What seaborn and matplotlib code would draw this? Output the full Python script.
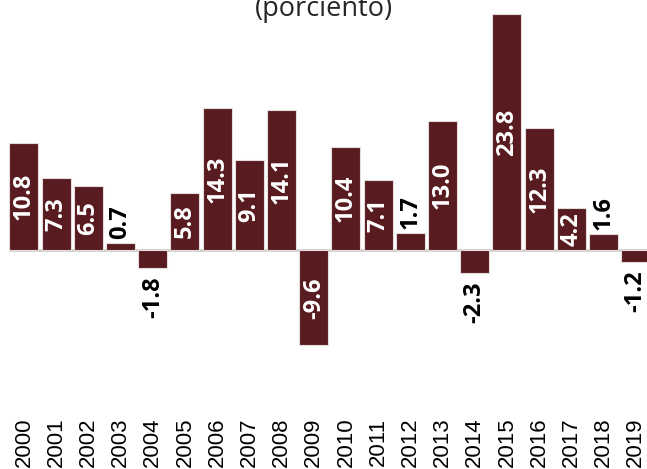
import matplotlib

matplotlib.use("Agg")

import matplotlib.pyplot as plt
import pandas as pd
import seaborn as sns

# Annual growth (percent)
years = [str(y) for y in range(2000, 2020)]
growth = [10.8, 7.3, 6.5, 0.7, -1.8, 5.8, 14.3, 9.1, 14.1, -9.6,
          10.4, 7.1, 1.7, 13.0, -2.3, 23.8, 12.3, 4.2, 1.6, -1.2]
title = "(porciento)"

BAR = "#581b1f"

df = pd.DataFrame({"year": years, "growth": growth})

sns.set_theme(style="white")
plt.rcParams["font.family"] = ["Open Sans", "DejaVu Sans"]

fig = plt.figure(figsize=(6.47, 4.69), dpi=100)
ax = fig.add_axes([0, 0.1365, 1, 0.8635])

sns.barplot(data=df, x="year", y="growth", color=BAR, saturation=1,
            width=0.9, edgecolor="#e4dcdc", linewidth=0.8, ax=ax)

ax.set_xlim(-0.745, 19.35)
ax.set_ylim(-15.6, 25.2)
ax.hlines(0, -0.45, 19.6, color="#cfcfcf", lw=2, zorder=0.5)

# value labels: inside for tall bars, outside for short ones
for i, v in enumerate(growth):
    txt = f"{v:.1f}"
    if abs(v) >= 4:
        ax.text(i, v / 2, txt, rotation=90, ha="center", va="center",
                color="white", fontsize=17, fontweight="bold")
    elif v >= 0:
        ax.annotate(txt, (i, v), xytext=(0, 3), textcoords="offset points",
                    rotation=90, ha="center", va="bottom", color="black",
                    fontsize=17, fontweight="bold")
    else:
        ax.annotate(txt, (i, v), xytext=(0, -6), textcoords="offset points",
                    rotation=90, ha="center", va="top", color="black",
                    fontsize=17, fontweight="bold")

ax.set_xlabel("")
ax.set_ylabel("")
ax.set_yticks([])
ax.tick_params(axis="x", length=0, pad=9, labelsize=16, labelrotation=90,
               labelcolor="black")
for lab in ax.get_xticklabels():
    lab.set_family(["Liberation Sans", "DejaVu Sans"])
sns.despine(ax=ax, left=True, bottom=True)

fig.text(0.5, 1 - 16 / 469, title, ha="center", va="baseline", fontsize=19.5)

fig.savefig("out.png", dpi=100)
plt.close(fig)
